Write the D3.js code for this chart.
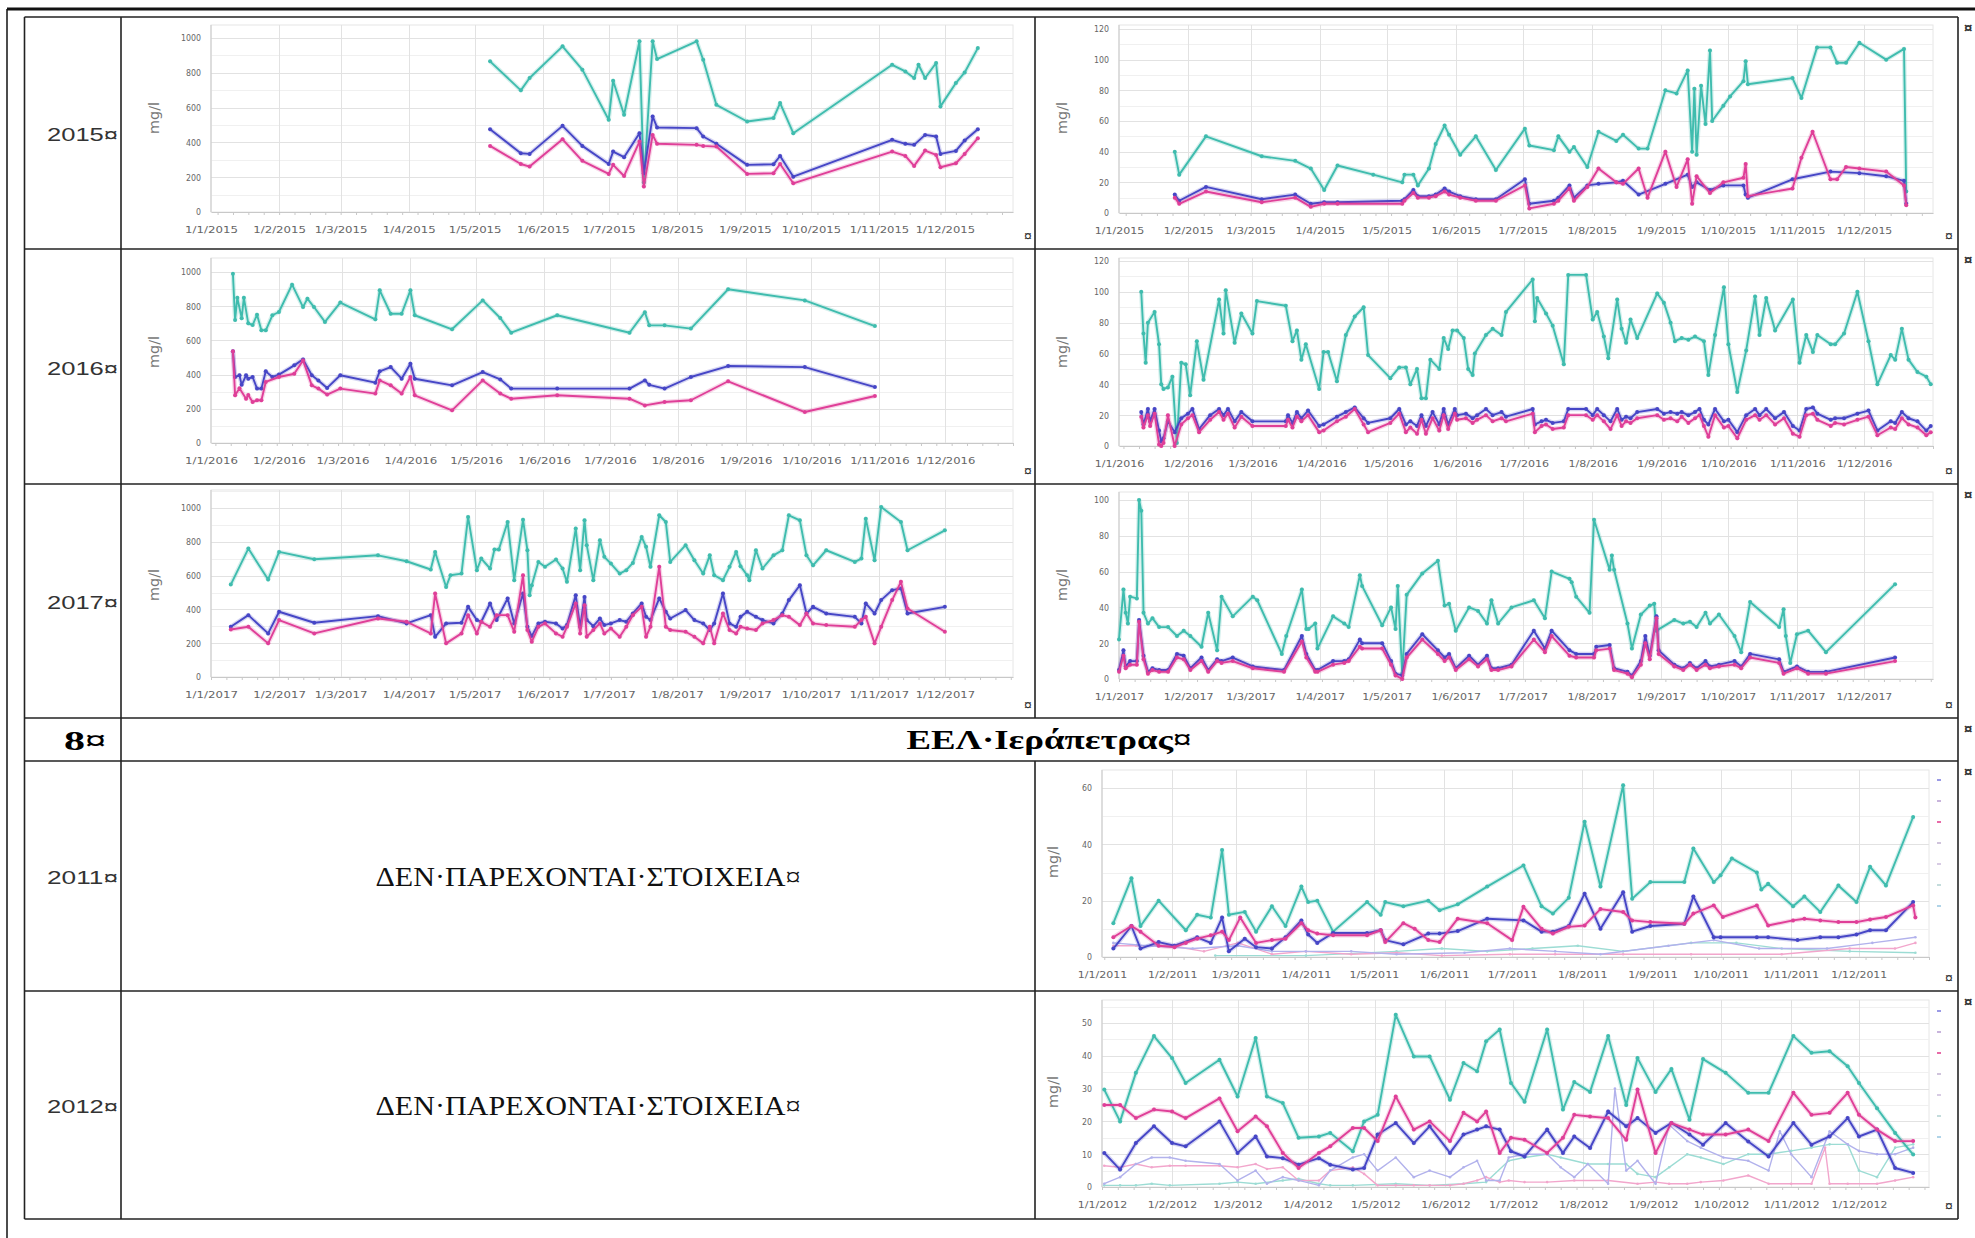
<!DOCTYPE html>
<html lang="el">
<head>
<meta charset="UTF-8">
<title>ΕΕΛ Ιεράπετρας</title>
<style>
html, body { margin: 0; padding: 0; background: #fff; }
svg { display: block; }
.grid line { stroke: #e2e2e2; shape-rendering: crispEdges; }
.grid path { display: none; }
.minor line { stroke: #f0f0f0; shape-rendering: crispEdges; }
.axis path { stroke: #c8c8c8; }
.axis line { stroke: #c8c8c8; }
.axis text { fill: #666; font-family: "DejaVu Sans", sans-serif; font-size: 9px; }
.rule { stroke: #222; stroke-width: 1.6; }
</style>
</head>
<body>
<script src="https://d3js.org/d3.v7.min.js"></script>
<script>
// ---- table text ----
const yearLabels = ["2015", "2016", "2017", "2011", "2012"];
const stationNo = "8";
const stationName = "ΕΕΛ·Ιεράπετρας";
const noData = "ΔΕΝ·ΠΑΡΕΧΟΝΤΑΙ·ΣΤΟΙΧΕΙΑ";
const yAxisTitle = "mg/l";

// ---- tick values ----
const ticksL = [0, 200, 400, 600, 800, 1000];
const ticksR120 = [0, 20, 40, 60, 80, 100, 120];
const ticksR100 = [0, 20, 40, 60, 80, 100];
const ticks2011 = [0, 20, 40, 60];
const ticks2012 = [0, 10, 20, 30, 40, 50];

// ---- 2015 left: [day of year, mg/l] ----
const tealL2015 = [[127,866],[141,699],[145,770],[160,952],[169,818],[181,530],[183,754],[188,559],[195,981],[197,170],[201,981],[203,879],[221,981],[224,875],[230,616],[244,520],[256,540],[259,626],[265,453],[310,846],[316,808],[320,770],[322,846],[325,770],[330,856],[332,607],[339,741],[343,802],[349,942]];
const blueL2015 = [[127,476],[141,338],[145,334],[160,495],[169,380],[181,276],[183,347],[188,315],[195,453],[197,223],[201,549],[203,486],[221,482],[224,434],[230,392],[244,271],[256,274],[259,322],[265,203],[310,415],[316,392],[320,386],[325,443],[330,434],[332,334],[339,351],[343,411],[349,476]];
const pinkL2015 = [[127,380],[141,276],[145,261],[160,418],[169,294],[181,219],[183,271],[188,207],[195,405],[197,146],[201,443],[203,392],[221,386],[224,380],[230,376],[244,219],[256,223],[259,276],[265,165],[310,347],[316,322],[320,265],[325,353],[330,328],[332,257],[339,280],[343,334],[349,424]];

// ---- 2015 right ----
const tealR2015 = [[25,40],[27,25],[39,50],[64,37],[79,34],[86,29],[92,15],[98,31],[114,25],[127,20],[128,25],[132,25],[134,18],[139,29],[142,45],[146,57],[148,51],[153,38],[160,50],[169,28],[182,55],[184,44],[195,41],[197,50],[202,40],[204,43],[210,30],[215,53],[223,47],[226,51],[233,42],[237,42],[245,80],[250,78],[255,93],[257,40],[258,81],[259,38],[261,83],[263,58],[265,106],[266,60],[271,70],[274,76],[280,86],[281,99],[282,84],[302,88],[306,75],[313,108],[319,108],[322,98],[326,98],[332,111],[344,100],[352,107],[353,14]];
const blueR2015 = [[25,12],[27,8],[39,17],[64,9],[79,12],[86,6],[92,7],[98,7],[127,8],[128,9],[132,15],[134,11],[139,11],[142,12],[146,16],[148,14],[153,11],[160,9],[169,9],[182,22],[184,6],[195,8],[197,10],[202,18],[204,10],[210,18],[215,19],[223,20],[226,21],[233,12],[245,19],[255,25],[257,17],[259,20],[265,15],[271,18],[280,18],[281,12],[282,10],[302,22],[319,27],[332,26],[344,24],[352,21],[353,6]];
const pinkR2015 = [[25,10],[27,6],[39,14],[64,7],[79,10],[86,4],[92,6],[98,6],[127,6],[128,8],[132,13],[134,10],[139,10],[142,11],[146,14],[148,12],[153,10],[160,8],[169,8],[182,18],[184,3],[195,6],[197,8],[202,16],[204,8],[210,17],[215,29],[223,20],[226,19],[233,29],[237,10],[245,40],[250,17],[255,35],[257,6],[259,24],[265,13],[271,20],[280,23],[281,32],[282,11],[302,16],[306,36],[311,53],[319,22],[322,22],[326,30],[332,29],[344,27],[352,18],[353,5]];

// ---- 2016 left ----
const tealL2016 = [[10,990],[11,720],[12,850],[14,730],[15,850],[17,700],[19,690],[21,750],[23,660],[25,659],[28,747],[31,766],[37,926],[42,795],[44,844],[47,795],[52,708],[59,821],[75,723],[77,893],[82,756],[87,756],[91,893],[93,747],[110,665],[124,834],[132,731],[137,645],[158,747],[191,645],[198,765],[200,688],[207,688],[219,669],[236,899],[271,834],[303,684]];
const blueL2016 = [[10,536],[11,386],[13,396],[14,340],[16,396],[17,376],[19,386],[21,318],[23,318],[25,419],[28,386],[31,400],[38,454],[42,489],[46,396],[49,366],[53,322],[59,396],[75,353],[77,419],[82,444],[87,376],[91,464],[93,376],[110,337],[124,415],[132,372],[137,318],[158,318],[191,318],[198,366],[200,340],[207,318],[219,386],[236,450],[271,444],[303,327]];
const pinkL2016 = [[10,536],[11,279],[13,320],[16,259],[17,280],[19,240],[21,250],[23,250],[25,357],[31,386],[38,405],[42,483],[46,337],[49,318],[53,283],[59,318],[75,289],[77,366],[82,337],[87,289],[91,386],[93,279],[110,191],[124,366],[132,289],[137,259],[158,279],[191,259],[198,220],[207,240],[219,250],[236,361],[271,181],[303,275]];

// ---- 2016 right ----
const tealR2016 = [[10,100],[11,73],[12,54],[13,80],[16,87],[18,66],[19,40],[20,37],[22,38],[24,45],[26,2],[28,54],[30,53],[32,33],[35,68],[38,43],[45,95],[47,73],[48,101],[52,67],[55,86],[60,73],[62,94],[75,91],[78,68],[80,75],[82,56],[84,66],[90,37],[92,61],[94,61],[98,42],[102,72],[106,84],[110,90],[112,59],[122,44],[126,51],[129,51],[131,40],[134,50],[136,31],[138,31],[140,56],[144,50],[146,70],[148,63],[150,75],[152,75],[155,70],[157,50],[159,46],[160,60],[165,72],[168,76],[172,72],[174,87],[186,108],[187,81],[188,96],[192,86],[195,78],[200,53],[202,111],[210,111],[213,82],[215,87],[218,71],[220,57],[224,95],[226,76],[228,67],[230,82],[233,70],[242,99],[245,93],[248,80],[250,68],[253,70],[256,69],[259,71],[263,68],[265,46],[268,72],[272,103],[274,66],[278,35],[282,62],[286,97],[288,72],[291,96],[295,75],[303,95],[306,54],[309,72],[312,61],[314,72],[320,66],[322,66],[326,73],[332,100],[337,68],[341,40],[347,59],[349,56],[352,76],[355,56],[359,48],[363,45],[365,40]];
const daysR2016 = [10,11,13,14,16,18,19,20,22,25,28,31,33,36,41,45,47,49,52,55,60,75,76,78,80,82,85,90,92,98,102,106,110,112,122,126,129,131,134,136,138,141,144,146,148,151,152,156,159,161,165,168,172,174,186,187,190,192,195,200,202,210,213,215,218,221,224,226,228,230,233,242,245,248,251,253,256,259,261,263,265,268,272,274,278,282,286,288,291,295,299,303,306,309,312,314,320,322,326,332,337,341,347,349,352,355,359,363,365];
const blueR2016 = [22,14,24,16,24,10,3,5,16,9,18,21,24,11,20,24,20,24,16,22,16,16,20,15,22,18,23,13,14,19,22,25,18,15,18,24,14,16,13,20,13,22,14,24,14,24,20,21,18,20,24,20,22,19,24,14,16,17,15,16,24,24,20,24,20,16,24,17,19,18,22,24,21,22,21,22,20,22,24,17,14,24,16,17,9,20,24,20,24,18,22,13,10,24,25,21,17,18,18,21,23,10,16,15,22,18,16,10,13];
const pinkR2016 = [19,12,20,13,21,1,0,2,20,0,14,18,20,9,17,22,17,21,12,19,13,13,17,12,19,16,20,9,10,16,19,24,14,9,15,21,9,12,8,17,8,18,10,20,11,21,17,18,15,17,20,16,18,16,21,9,13,14,11,12,20,20,17,20,16,11,20,13,16,15,18,20,17,18,16,19,15,18,20,13,6,20,12,13,5,17,20,17,20,14,18,8,6,20,21,17,13,15,14,17,19,7,12,11,18,14,12,7,9];

// ---- 2017 left ----
const tealL2017 = [[9,547],[17,760],[26,577],[31,740],[47,697],[76,720],[89,685],[100,636],[102,740],[107,533],[109,602],[114,612],[117,947],[121,632],[123,701],[127,642],[129,754],[131,754],[135,917],[138,573],[142,931],[144,750],[145,484],[146,543],[149,681],[152,652],[157,695],[160,642],[162,563],[166,878],[168,632],[170,927],[171,780],[174,573],[177,809],[179,711],[182,671],[186,612],[189,632],[192,675],[196,829],[198,770],[200,652],[204,957],[207,917],[209,681],[216,780],[220,691],[224,612],[227,720],[229,602],[233,573],[236,652],[239,740],[241,656],[244,602],[245,573],[248,750],[251,642],[256,720],[260,750],[263,957],[268,927],[271,720],[274,661],[280,750],[293,681],[296,701],[298,937],[302,691],[305,1006],[314,917],[317,750],[334,868]];
const blueL2017 = [[9,297],[17,366],[26,258],[31,386],[47,321],[76,360],[89,317],[100,366],[102,238],[107,317],[114,321],[117,415],[121,337],[123,327],[127,435],[130,337],[135,465],[138,317],[142,494],[144,297],[146,242],[149,317],[152,327],[157,317],[160,287],[162,307],[166,484],[168,297],[170,474],[171,337],[174,301],[177,346],[179,307],[182,317],[186,337],[189,327],[192,376],[196,435],[198,356],[200,337],[204,465],[207,386],[209,346],[216,396],[220,337],[224,317],[227,278],[229,317],[233,494],[236,317],[239,297],[241,356],[244,386],[248,356],[251,337],[256,317],[260,376],[263,455],[268,543],[271,376],[274,415],[280,376],[293,356],[296,317],[298,435],[302,376],[305,455],[310,514],[314,524],[317,376],[334,415]];
const pinkL2017 = [[9,281],[17,297],[26,199],[31,337],[47,258],[76,346],[89,327],[100,258],[102,494],[107,199],[114,258],[117,366],[121,258],[123,327],[127,297],[130,366],[135,366],[138,268],[142,602],[144,278],[146,209],[149,297],[152,317],[157,258],[160,238],[162,297],[166,435],[168,258],[170,425],[171,238],[174,278],[177,317],[179,258],[182,287],[186,238],[189,297],[192,366],[196,415],[198,238],[200,297],[204,652],[207,297],[209,278],[216,268],[220,238],[224,199],[227,297],[229,199],[233,376],[236,278],[239,258],[241,297],[244,287],[248,278],[251,317],[256,337],[260,366],[263,356],[268,307],[271,376],[274,317],[280,307],[293,297],[296,337],[298,356],[302,199],[305,297],[310,455],[314,563],[317,405],[334,268]];

// ---- 2017 right ----
const tealR2017 = [[0,22],[2,50],[3,37],[4,31],[5,46],[8,45],[9,100],[10,94],[11,37],[13,31],[15,34],[18,29],[22,29],[26,24],[29,27],[32,24],[37,18],[40,37],[44,16],[46,46],[51,35],[60,46],[62,44],[73,14],[75,24],[82,50],[84,28],[85,28],[88,31],[89,17],[96,35],[101,31],[103,29],[108,58],[109,52],[118,30],[122,40],[124,28],[125,52],[127,3],[129,47],[136,59],[143,66],[146,41],[148,42],[151,27],[157,40],[161,38],[165,31],[167,44],[170,31],[176,40],[186,44],[191,34],[194,60],[202,56],[203,54],[205,46],[211,37],[213,89],[220,61],[221,69],[222,61],[228,31],[230,17],[234,36],[238,41],[240,42],[241,27],[249,33],[253,31],[256,32],[259,29],[263,37],[265,31],[269,36],[276,24],[279,15],[283,43],[296,29],[298,39],[299,24],[301,9],[304,25],[309,27],[317,15],[348,53]];
const daysR2017 = [0,2,3,5,8,9,11,13,15,18,22,26,29,32,37,40,44,46,51,60,74,82,84,88,89,96,101,103,108,109,118,122,124,127,129,136,143,146,148,151,157,161,165,167,170,176,186,191,194,202,205,213,214,220,222,228,230,234,236,238,241,242,249,253,256,259,263,265,269,276,279,283,296,298,304,309,317,348];
const blueR2017 = [5,16,7,10,10,33,13,4,6,5,5,14,13,6,12,5,11,10,12,7,5,24,14,5,5,10,10,11,22,20,20,10,3,2,14,25,16,12,14,6,13,8,13,6,6,8,27,17,27,16,14,14,18,19,6,4,2,10,24,13,35,16,8,6,9,6,10,7,8,10,7,14,11,4,7,4,4,12];
const pinkR2017 = [4,13,6,8,8,32,11,3,5,4,4,12,11,5,10,4,10,9,10,6,4,21,12,4,4,8,9,10,18,17,17,8,2,0,12,22,14,10,12,5,11,7,11,5,5,7,22,15,24,13,12,12,16,17,5,3,1,8,20,11,34,14,7,5,8,5,8,6,7,8,6,12,9,3,6,3,3,10];

// ---- 2011 right ----
const tealR2011 = [[5,12],[13,28],[17,11],[25,20],[37,9.5],[42,15],[48,14],[53,38],[56,15],[63,16],[68,9],[75,18],[81,11],[88,25],[91,19.5],[95,20],[102,9],[117,19.5],[123,15],[125,19.5],[133,18],[144,20],[149,16.6],[157,18.7],[170,25],[186,32.5],[194,18],[199,15.4],[206,21],[213,48],[220,25],[230,61],[234,20.7],[242,26.6],[257,26.6],[261,38.5],[270,26.6],[273,29],[278,35],[289,30],[291,24],[294,26],[305,18],[310,21.5],[317,16],[325,25.4],[333,19.5],[339,32],[346,25.4],[358,49.7]];
const blueR2011 = [[5,3],[13,11],[17,3],[25,5.3],[32,4],[42,7],[48,5],[53,14],[56,2],[63,6.5],[68,3.5],[75,3],[81,7],[88,13],[91,8],[95,5],[102,8.5],[117,8.5],[123,9.5],[125,6],[133,4.5],[144,8.3],[149,8.3],[157,9.2],[170,13.6],[186,13],[194,9],[199,9],[206,11],[213,22.5],[220,10],[230,23],[234,9],[242,11],[257,11.8],[261,21.5],[270,7],[273,7],[289,7],[294,7],[307,6],[317,7],[325,7],[333,8],[339,9.5],[346,9.5],[358,19.5]];
const pinkR2011 = [[5,7],[13,11],[17,9],[25,4],[32,3.5],[37,5],[42,6.5],[48,7.7],[53,9],[56,6],[61,14],[68,5],[75,6],[81,6.5],[88,12],[91,9.5],[95,8.3],[102,7.7],[117,7.7],[123,9.5],[125,5.3],[133,12],[138,10],[144,6],[149,5.3],[157,13.6],[170,12],[181,6],[186,17.8],[194,10],[199,8.3],[206,10.7],[213,11.2],[220,17],[230,16],[234,13],[242,12.4],[257,11.8],[261,15.4],[270,18.3],[274,14.2],[289,18.3],[294,11.2],[305,13],[310,13.6],[317,13],[325,12.4],[333,12.4],[339,13.3],[346,14.2],[358,18.3],[359,14]];
const paleTealR2011 = [[50,0.5],[90,0.5],[130,2],[150,3],[170,2],[190,3],[210,4],[230,2],[260,5],[280,5],[300,3],[330,2],[359,1.5]];
const palePinkR2011 = [[5,4],[15,4],[30,4],[45,2],[60,5],[75,1],[90,2],[110,1],[130,1.5],[150,0.5],[180,1],[200,1],[230,1],[260,1],[300,1],[330,3],[350,3],[359,5]];
const paleBlueR2011 = [[5,5],[20,4],[40,3],[60,4],[75,2],[90,2],[110,2],[130,1],[160,1.5],[180,3],[200,2],[220,1],[250,4],[270,6],[290,3],[320,3],[340,5],[359,7]];

// ---- 2012 right ----
const daysR2012 = [1,8,15,23,31,37,52,60,68,73,80,87,96,101,111,116,122,130,138,145,154,160,166,170,176,181,187,197,204,209,216,224,232,237,245,252,260,266,276,286,295,306,314,322,330,335,343,351,359];
const tealR2012 = [29.7,20,34.8,46,39.3,31.7,38.8,27.6,45.4,27.6,25.6,15,15.4,16.5,10.9,20,22,52.5,39.8,39.8,26.6,37.8,35.3,44.4,48,31.7,26,48,23.6,32,29,46,25,39.3,29,36,20.5,39,34.8,28.7,28.7,46,40.9,41.4,36.8,31.7,24,16.5,9.9];
const blueR2012 = [10.4,5.3,13.4,18.5,13.4,12.4,20,10.4,15.4,9.3,8.8,6.8,8.8,6.8,5.3,5.8,16,19.5,13.4,18.5,10.4,16,17.5,18.5,17.5,10.9,9.3,17.5,10.4,15.4,11.9,23,18.5,21,16.5,19.5,16,12.9,19.5,13.9,9.3,19.5,12.9,15.4,21,15.4,17.5,5.8,4.3];
const pinkR2012 = [25,25,21,23.6,23,21,27,17,21.5,18.5,10.4,5.8,10.4,12.4,18,18,14,27.6,17.5,20,14,22.6,20,23,10.4,15,14.4,10.4,15,22,21.5,21,14.4,29.7,10.4,19.5,17.5,16,16,17.5,14,28.7,22,22.6,28.7,22,17.5,14,14];
const paleBlueR2012 = [[1,1],[8,3],[15,7],[22,9],[30,9],[37,8],[52,7],[60,2],[68,5],[73,1],[80,3],[87,2],[96,0.5],[101,5],[111,9],[116,10],[122,5],[130,9],[138,3],[145,5],[154,3],[160,6],[166,8],[170,2],[176,2],[180,9],[187,10],[197,10],[203,6],[209,3],[215,7],[224,1],[227,30],[232,5],[237,8],[245,1],[251,19],[259,14],[265,12],[275,9],[286,8],[295,5],[300,17],[305,10],[314,3],[322,17],[330,13],[335,11],[343,10],[351,10],[359,12]];
const palePinkR2012 = [[1,6.5],[8,6],[15,7],[22,6],[30,6.5],[37,6.5],[52,6.5],[60,6],[68,7],[73,5.5],[80,6],[87,2],[96,2],[101,5],[111,6],[116,4],[122,0.5],[130,0.5],[138,0.5],[145,0.5],[154,0.5],[160,1],[166,2],[170,3],[176,1.5],[180,2],[187,1.5],[197,1.5],[209,2],[224,2],[237,1],[245,1.5],[251,1],[259,1],[265,1.5],[275,2],[286,3.5],[295,1],[305,1],[314,1],[320,12],[322,1],[330,1],[343,1],[351,2],[359,3]];
const paleTealR2012 = [[1,0.5],[8,0.5],[15,0.5],[22,1],[30,0.5],[52,1],[60,1.5],[68,1],[80,2],[87,2.5],[96,1],[101,0.5],[111,0.5],[130,1],[145,0.5],[160,1],[170,1.5],[180,8],[187,9],[197,10],[203,9],[215,7],[224,7],[232,7],[237,4],[245,3],[251,6],[259,10],[265,9],[275,7],[286,10],[295,10],[305,11],[314,12],[322,13],[330,13],[335,5],[343,3],[351,12],[359,13]];

const legendColors = ["#9a9ae6", "#c8b4dc", "#e86aa8", "#d0c4dc", "#d8cce4", "#c4dcdc", "#b0d4e8"];

// ---------------------------------------------------------------
const COL = { teal: "#3fbcae", blue: "#4646c6", pink: "#df3f98",
              paleTeal: "#9cdcd4", palePink: "#f2a6cc", paleBlue: "#b2b2ec" };

const svg = d3.select("body").append("svg").attr("width", 1975).attr("height", 1238);

const dayDate = (year, d) => new Date(+new Date(year, 0, 1) + d * 864e5);

function drawChart(cfg) {
    const g = svg.append("g");
    const start = new Date(cfg.year, 0, 1), end = new Date(cfg.year + 1, 0, 1);
    const x = d3.scaleTime().domain([start, end]).range([cfg.x0, cfg.x1]);
    const y = d3.scaleLinear().domain([0, cfg.refVal]).range([cfg.y0, cfg.yRef]);
    const topVal = y.invert(cfg.top);
    const step = cfg.ticks[1] - cfg.ticks[0];
    const h = cfg.y0 - cfg.top;
    const months = d3.timeMonth.range(start, end);
    const xLabel = d => `1/${d.getMonth() + 1}/${cfg.year}`;

    g.append("rect")
        .attr("x", cfg.x0).attr("y", cfg.top)
        .attr("width", cfg.x1 - cfg.x0).attr("height", h)
        .attr("fill", "#fff").attr("stroke", "#e6e6e6");

    // minor horizontal grid
    g.append("g").attr("class", "grid minor")
        .attr("transform", `translate(${cfg.x0},0)`)
        .call(d3.axisLeft(y).tickValues(d3.range(step / 2, topVal, step)).tickSize(-(cfg.x1 - cfg.x0)).tickFormat(""));
    // major horizontal grid
    g.append("g").attr("class", "grid")
        .attr("transform", `translate(${cfg.x0},0)`)
        .call(d3.axisLeft(y).tickValues(cfg.ticks.slice(1)).tickSize(-(cfg.x1 - cfg.x0)).tickFormat(""));
    // vertical month grid
    g.append("g").attr("class", "grid")
        .attr("transform", `translate(0,${cfg.y0})`)
        .call(d3.axisBottom(x).tickValues(months.slice(1)).tickSizeInner(-h).tickSizeOuter(0).tickFormat(""));

    // x axis with weekly minor ticks
    g.append("g").attr("class", "axis")
        .attr("transform", `translate(0,${cfg.y0})`)
        .call(d3.axisBottom(x).ticks(d3.timeWeek).tickSize(3).tickSizeOuter(0).tickFormat(""));
    const xa = g.append("g").attr("class", "axis")
        .attr("transform", `translate(0,${cfg.y0})`)
        .call(d3.axisBottom(x).tickValues(months).tickSize(0).tickPadding(cfg.labelPad).tickFormat(xLabel));
    xa.select(".domain").remove();
    xa.selectAll("text")
        .attr("textLength", d => cfg.charW * xLabel(d).length)
        .attr("lengthAdjust", "spacingAndGlyphs");

    // y axis
    const ya = g.append("g").attr("class", "axis")
        .attr("transform", `translate(${cfg.x0},0)`)
        .call(d3.axisLeft(y).tickValues(cfg.ticks).tickSize(0).tickPadding(10).tickFormat(d3.format("d")));
    ya.select(".domain").attr("d", `M0,${cfg.top}V${cfg.y0}`);
    ya.selectAll("text")
        .attr("textLength", d => cfg.yCharW * String(d).length)
        .attr("lengthAdjust", "spacingAndGlyphs");

    g.append("text")
        .attr("transform", `translate(${cfg.x0 - cfg.titleDx},${cfg.titleY}) rotate(-90)`)
        .attr("text-anchor", "middle")
        .attr("fill", "#777")
        .attr("font-family", "DejaVu Sans, sans-serif")
        .attr("font-size", 14)
        .attr("textLength", 32).attr("lengthAdjust", "spacingAndGlyphs")
        .text(yAxisTitle);

    const line = d3.line()
        .x(d => x(dayDate(cfg.year, d[0])))
        .y(d => y(d[1]));

    cfg.series.forEach(s => {
        const sg = g.append("g");
        if (!s.pale) {
            sg.append("path").attr("d", line(s.data))
                .attr("fill", "none").attr("stroke", s.color)
                .attr("stroke-width", 4.5).attr("stroke-opacity", 0.22).attr("stroke-linejoin", "round");
        }
        sg.append("path").attr("d", line(s.data))
            .attr("fill", "none").attr("stroke", s.color)
            .attr("stroke-width", s.pale ? 1.4 : 1.9).attr("stroke-linejoin", "round");
        sg.selectAll("circle").data(s.data).enter().append("circle")
            .attr("cx", d => x(dayDate(cfg.year, d[0])))
            .attr("cy", d => y(d[1]))
            .attr("r", s.pale ? 1.3 : 2)
            .attr("fill", s.color);
    });

    if (cfg.legend) {
        g.selectAll(".lg").data(cfg.legend).enter().append("line")
            .attr("x1", cfg.x1 + 8).attr("x2", cfg.x1 + 12)
            .attr("y1", (d, i) => cfg.legendY + i * 21).attr("y2", (d, i) => cfg.legendY + i * 21)
            .attr("stroke", d => d).attr("stroke-width", 2);
    }
}

const zip = (days, vals) => d3.zip(days, vals);
const tri = (t, b, p) => [
    { data: t, color: COL.teal },
    { data: b, color: COL.blue },
    { data: p, color: COL.pink }
];
const left = { x0: 211, x1: 1013, charW: 6.6, yCharW: 5, labelPad: 15, titleDx: 52 };
const right = { x0: 1119, x1: 1933, charW: 6.2, yCharW: 5, labelPad: 15, titleDx: 52 };
const bottom = { x0: 1102, x1: 1929, charW: 6.2, yCharW: 5, labelPad: 15, titleDx: 44 };

drawChart({ ...left, year: 2015, y0: 212, yRef: 38, refVal: 1000, top: 25, titleY: 118, ticks: ticksL,
    series: tri(tealL2015, blueL2015, pinkL2015) });
drawChart({ ...right, year: 2015, y0: 213, yRef: 29, refVal: 120, top: 25, titleY: 118, ticks: ticksR120,
    series: tri(tealR2015, blueR2015, pinkR2015) });
drawChart({ ...left, year: 2016, y0: 443, yRef: 272, refVal: 1000, top: 258, titleY: 352, ticks: ticksL,
    series: tri(tealL2016, blueL2016, pinkL2016) });
drawChart({ ...right, year: 2016, y0: 446, yRef: 261, refVal: 120, top: 258, titleY: 352, ticks: ticksR120,
    series: tri(tealR2016, zip(daysR2016, blueR2016), zip(daysR2016, pinkR2016)) });
drawChart({ ...left, year: 2017, y0: 677, yRef: 508, refVal: 1000, top: 490, titleY: 585, ticks: ticksL,
    series: tri(tealL2017, blueL2017, pinkL2017) });
drawChart({ ...right, year: 2017, y0: 679, yRef: 500, refVal: 100, top: 492, titleY: 585, ticks: ticksR100,
    series: tri(tealR2017, zip(daysR2017, blueR2017), zip(daysR2017, pinkR2017)) });
drawChart({ ...bottom, year: 2011, y0: 957, yRef: 788, refVal: 60, top: 770, titleY: 862, ticks: ticks2011,
    legend: legendColors, legendY: 780,
    series: [
        { data: paleTealR2011, color: COL.paleTeal, pale: true },
        { data: palePinkR2011, color: COL.palePink, pale: true },
        { data: paleBlueR2011, color: COL.paleBlue, pale: true },
        ...tri(tealR2011, blueR2011, pinkR2011)
    ] });
drawChart({ ...bottom, year: 2012, y0: 1187, yRef: 1023, refVal: 50, top: 1000, titleY: 1092, ticks: ticks2012,
    legend: legendColors, legendY: 1011,
    series: [
        { data: paleTealR2012, color: COL.paleTeal, pale: true },
        { data: palePinkR2012, color: COL.palePink, pale: true },
        { data: paleBlueR2012, color: COL.paleBlue, pale: true },
        ...tri(zip(daysR2012, tealR2012), zip(daysR2012, blueR2012), zip(daysR2012, pinkR2012))
    ] });

// ---- table frame ----
const T = { l: 24.5, c1: 121, c2: 1035, r: 1958 };
const rows = [17, 249, 484, 718, 761, 991, 1219];
const rules = svg.append("g");
rules.append("line").attr("x1", 7).attr("x2", 1975).attr("y1", 9).attr("y2", 9).attr("stroke", "#111").attr("stroke-width", 3);
rules.append("line").attr("x1", 7).attr("x2", 7).attr("y1", 9).attr("y2", 1238).attr("stroke", "#111").attr("stroke-width", 1.5);
rows.forEach(r => rules.append("line").attr("class", "rule").attr("x1", T.l).attr("x2", T.r).attr("y1", r).attr("y2", r));
[T.l, T.c1, T.r].forEach(c => rules.append("line").attr("class", "rule").attr("x1", c).attr("x2", c).attr("y1", rows[0]).attr("y2", rows[6]));
[[rows[0], rows[3]], [rows[4], rows[6]]].forEach(([a, b]) =>
    rules.append("line").attr("class", "rule").attr("x1", T.c2).attr("x2", T.c2).attr("y1", a).attr("y2", b));

// ---- table text ----
const yearRows = [[rows[0], rows[1]], [rows[1], rows[2]], [rows[2], rows[3]], [rows[4], rows[5]], [rows[5], rows[6]]];
svg.selectAll(".yr").data(yearLabels).enter().append("text")
    .attr("x", 118).attr("y", (d, i) => (yearRows[i][0] + yearRows[i][1]) / 2 + 8)
    .attr("text-anchor", "end")
    .attr("font-family", "Liberation Sans, sans-serif").attr("font-size", 19).attr("fill", "#333")
    .attr("textLength", 71).attr("lengthAdjust", "spacingAndGlyphs")
    .text(d => d + "¤");

svg.append("text").attr("x", 106).attr("y", 750).attr("text-anchor", "end")
    .attr("font-family", "Liberation Serif, serif").attr("font-weight", "bold").attr("font-size", 28)
    .attr("textLength", 42).attr("lengthAdjust", "spacingAndGlyphs")
    .text(stationNo + "¤");
svg.append("text").attr("x", 1049).attr("y", 749).attr("text-anchor", "middle")
    .attr("font-family", "Liberation Serif, serif").attr("font-weight", "bold").attr("font-size", 27)
    .attr("textLength", 285).attr("lengthAdjust", "spacingAndGlyphs")
    .text(stationName + "¤");
[[rows[4], rows[5]], [rows[5], rows[6]]].forEach(([a, b]) => {
    svg.append("text").attr("x", 588).attr("y", (a + b) / 2 + 10).attr("text-anchor", "middle")
        .attr("font-family", "Liberation Serif, serif").attr("font-size", 28).attr("fill", "#111")
        .attr("textLength", 425).attr("lengthAdjust", "spacingAndGlyphs")
        .text(noData + "¤");
});

// cell end marks
const markRows = [[rows[1], true], [rows[2], true], [rows[3], true], [rows[5], false], [rows[6], false]];
markRows.forEach(([b, both]) => {
    if (both) svg.append("text").attr("x", 1024).attr("y", b - 8).attr("font-size", 14)
        .attr("font-family", "Liberation Sans, sans-serif").attr("fill", "#333").text("¤");
    svg.append("text").attr("x", 1945).attr("y", b - 8).attr("font-size", 14)
        .attr("font-family", "Liberation Sans, sans-serif").attr("fill", "#333").text("¤");
});
rows.slice(0, 6).forEach(r => svg.append("text").attr("x", 1964).attr("y", r + 16).attr("font-size", 15)
    .attr("font-weight", "bold").attr("font-family", "Liberation Sans, sans-serif").attr("fill", "#333").text("¤"));
</script>
</body>
</html>
